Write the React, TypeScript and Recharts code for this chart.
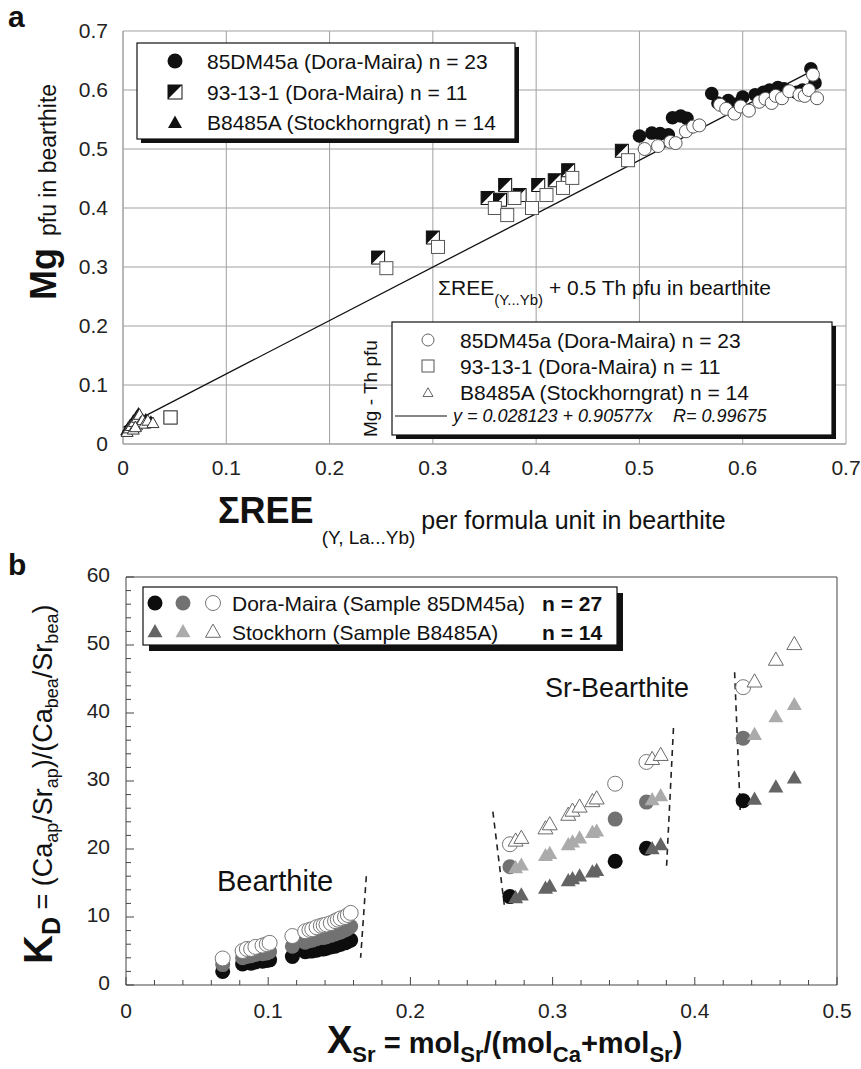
import React from "react";
import { CartesianGrid, ReferenceLine, Scatter, ScatterChart, XAxis, YAxis } from "recharts";

const FONT = '"Liberation Sans", Arial, Helvetica, sans-serif';
const INK = "#111";

// ---------- panel a: Mg vs sum REE (pfu) ----------
const aTicks = [0, 0.1, 0.2, 0.3, 0.4, 0.5, 0.6, 0.7];
const aTickLabels = ["0", "0.1", "0.2", "0.3", "0.4", "0.5", "0.6", "0.7"];

const dm45Ree = [0.5, 0.512, 0.52, 0.528, 0.532, 0.54, 0.546, 0.57, 0.576, 0.586, 0.594, 0.6, 0.612, 0.62, 0.626, 0.63, 0.634, 0.64, 0.652, 0.658, 0.662, 0.666, 0.67];
const dm45Mg = [0.522, 0.527, 0.526, 0.524, 0.553, 0.556, 0.552, 0.594, 0.578, 0.582, 0.576, 0.588, 0.592, 0.596, 0.6, 0.59, 0.604, 0.602, 0.596, 0.6, 0.598, 0.636, 0.612];
const dm45ThRee = [0.505, 0.518, 0.53, 0.535, 0.545, 0.552, 0.558, 0.578, 0.584, 0.592, 0.598, 0.606, 0.616, 0.622, 0.628, 0.632, 0.638, 0.645, 0.655, 0.66, 0.664, 0.668, 0.672];
const dm45ThMg = [0.5, 0.505, 0.512, 0.51, 0.53, 0.538, 0.54, 0.575, 0.568, 0.56, 0.572, 0.565, 0.58, 0.585, 0.578, 0.59, 0.586, 0.598, 0.592, 0.59, 0.6, 0.626, 0.586];

const s9313Ree = [0.247, 0.3, 0.353, 0.365, 0.37, 0.384, 0.402, 0.418, 0.431, 0.483, 0.046];
const s9313Mg = [0.316, 0.35, 0.417, 0.414, 0.439, 0.422, 0.439, 0.447, 0.464, 0.497, 0.045];
const s9313ThRee = [0.255, 0.305, 0.36, 0.372, 0.379, 0.396, 0.41, 0.426, 0.435, 0.489, 0.046];
const s9313ThMg = [0.298, 0.334, 0.4, 0.388, 0.417, 0.4, 0.422, 0.434, 0.451, 0.481, 0.045];

const b8485Ree = [0.003, 0.005, 0.007, 0.009, 0.01, 0.012, 0.013, 0.015, 0.016, 0.018, 0.02, 0.022, 0.027, 0.011];
const b8485Mg = [0.022, 0.028, 0.033, 0.026, 0.04, 0.034, 0.047, 0.052, 0.039, 0.043, 0.037, 0.042, 0.038, 0.031];
const b8485ThRee = [0.004, 0.006, 0.008, 0.01, 0.011, 0.013, 0.014, 0.016, 0.017, 0.019, 0.021, 0.024, 0.029, 0.012];
const b8485ThMg = [0.02, 0.026, 0.03, 0.024, 0.037, 0.031, 0.044, 0.049, 0.036, 0.04, 0.034, 0.039, 0.035, 0.028];

const fitIntercept = 0.028123;
const fitSlope = 0.90577;
const fitRange = [0, 0.67];

// ---------- panel b: KD vs X_Sr ----------
const bLabelsX = ["0", "0.1", "0.2", "0.3", "0.4", "0.5"];
const bLabelsY = ["0", "10", "20", "30", "40", "50", "60"];
const bTicksX = Array.from({ length: 26 }, (_, i) => i / 50);
const bTicksY = Array.from({ length: 31 }, (_, i) => i * 2);

const doraX = [0.068, 0.082, 0.085, 0.088, 0.091, 0.096, 0.099, 0.101, 0.117, 0.126, 0.129, 0.131, 0.134, 0.137, 0.139, 0.141, 0.144, 0.147, 0.149, 0.151, 0.154, 0.156, 0.158, 0.27, 0.344, 0.366, 0.434];
const doraKd1 = [2.0, 3.1, 3.3, 3.2, 3.4, 3.5, 3.6, 3.7, 4.2, 4.9, 5.0, 5.0, 5.1, 5.3, 5.3, 5.4, 5.6, 5.7, 5.9, 6.0, 6.2, 6.4, 6.6, 13.0, 18.2, 20.1, 27.1];
const doraKd2 = [3.0, 4.0, 4.2, 4.3, 4.5, 4.6, 4.7, 4.9, 5.7, 6.3, 6.5, 6.6, 6.8, 7.0, 7.0, 7.1, 7.3, 7.5, 7.7, 7.8, 8.1, 8.3, 8.6, 17.4, 24.4, 26.9, 36.3];
const doraKd3 = [3.9, 5.0, 5.3, 5.3, 5.6, 5.8, 6.0, 6.2, 7.2, 7.9, 8.1, 8.2, 8.5, 8.7, 8.8, 8.9, 9.1, 9.4, 9.6, 9.8, 10.0, 10.3, 10.6, 20.7, 29.6, 32.8, 43.8];

const stockX = [0.274, 0.278, 0.295, 0.298, 0.311, 0.314, 0.319, 0.328, 0.331, 0.37, 0.376, 0.442, 0.457, 0.47];
const stockKd1 = [12.8, 13.2, 14.2, 14.5, 15.3, 15.6, 16.0, 16.6, 16.8, 20.0, 20.6, 27.3, 29.1, 30.4];
const stockKd2 = [17.2, 17.6, 19.0, 19.3, 20.6, 21.0, 21.6, 22.4, 22.6, 27.2, 27.8, 36.8, 39.4, 41.2];
const stockKd3 = [21.2, 21.6, 23.0, 23.6, 25.0, 25.6, 26.2, 27.0, 27.4, 33.2, 33.8, 44.6, 47.8, 50.1];

// dashed field boundaries: [x top, KD top, x bottom, KD bottom]
const boundaries = [
  [0.169, 16.0, 0.165, 4.0],
  [0.258, 25.5, 0.266, 11.8],
  [0.385, 37.8, 0.38, 16.8],
  [0.428, 46.0, 0.432, 25.4],
];

const zip = (xs: number[], ys: number[]) => xs.map((x, i) => ({ x, y: ys[i] }));

// ---------- markers ----------
type P = { cx?: number; cy?: number };
const Dot = ({ cx = 0, cy = 0, r = 6.8, fill = INK, stroke = "none" }: P & { r?: number; fill?: string; stroke?: string }) => (
  <circle cx={cx} cy={cy} r={r} fill={fill} stroke={stroke} strokeWidth={1} />
);
const Tri = ({ cx = 0, cy = 0, w = 12, fill = INK, stroke = "none" }: P & { w?: number; fill?: string; stroke?: string }) => {
  const h = w * 0.88;
  return (
    <path
      d={`M${cx},${cy - h * 0.6} L${cx + w / 2},${cy + h * 0.4} L${cx - w / 2},${cy + h * 0.4} Z`}
      fill={fill}
      stroke={stroke}
      strokeWidth={1}
    />
  );
};
const HalfSq = ({ cx = 0, cy = 0, s = 6.5 }: P & { s?: number }) => (
  <g>
    <rect x={cx - s} y={cy - s} width={2 * s} height={2 * s} fill="#fff" stroke={INK} strokeWidth={1} />
    <path d={`M${cx - s},${cy - s} L${cx + s},${cy - s} L${cx - s},${cy + s} Z`} fill={INK} />
  </g>
);
const OpenSq = ({ cx = 0, cy = 0, s = 6.5 }: P & { s?: number }) => (
  <rect x={cx - s} y={cy - s} width={2 * s} height={2 * s} fill="#fff" stroke="#555" strokeWidth={1} />
);

const isMajor = (v: number, step: number) => Math.abs(v / step - Math.round(v / step)) < 1e-6;

const BottomTick = (p: any) => {
  const v = p.payload.value;
  const major = isMajor(v, 0.1);
  return (
    <g>
      <line x1={p.x} x2={p.x} y1={p.y} y2={p.y - (major ? 8 : 5)} stroke="#444" />
      {major ? (
        <text x={p.x} y={p.y + 33} textAnchor="middle" fontSize={21} fill="#222" fontFamily={FONT}>
          {bLabelsX[Math.round(v * 10)]}
        </text>
      ) : null}
    </g>
  );
};
const TopTick = (p: any) => {
  const major = isMajor(p.payload.value, 0.1);
  return <line x1={p.x} x2={p.x} y1={p.y} y2={p.y + (major ? 8 : 5)} stroke="#444" />;
};
const LeftTick = (p: any) => {
  const v = p.payload.value;
  const major = isMajor(v, 10);
  return (
    <g>
      <line x1={p.x} x2={p.x + (major ? 8 : 5)} y1={p.y} y2={p.y} stroke="#444" />
      {major ? (
        <text x={p.x - 16} y={p.y + 5} textAnchor="end" fontSize={21} fill="#222" fontFamily={FONT}>
          {bLabelsY[Math.round(v / 10)]}
        </text>
      ) : null}
    </g>
  );
};
const RightTick = (p: any) => {
  const major = isMajor(p.payload.value, 10);
  return <line x1={p.x} x2={p.x - (major ? 8 : 5)} y1={p.y} y2={p.y} stroke="#444" />;
};

function PanelA() {
  const tickStyle = { fontSize: 21, fill: "#222", fontFamily: FONT };
  const fmt = (v: number) => aTickLabels[Math.round(v * 10)];
  return (
    <ScatterChart width={861} height={490} margin={{ top: 31, right: 15, left: 0, bottom: 16 }}>
      <CartesianGrid stroke="#a0a0a0" strokeWidth={1} />
      <XAxis type="number" dataKey="x" domain={[0, 0.7]} ticks={aTicks} tickFormatter={fmt} height={30}
        tick={tickStyle} tickLine={false} tickSize={0} tickMargin={16} axisLine={{ stroke: "#a0a0a0" }} interval={0} />
      <YAxis type="number" dataKey="y" domain={[0, 0.7]} ticks={aTicks} tickFormatter={fmt} width={123}
        tick={tickStyle} tickLine={false} tickSize={0} tickMargin={15} axisLine={{ stroke: "#a0a0a0" }} interval={0} />
      <ReferenceLine
        segment={[
          { x: fitRange[0], y: fitIntercept + fitSlope * fitRange[0] },
          { x: fitRange[1], y: fitIntercept + fitSlope * fitRange[1] },
        ]}
        stroke={INK}
        strokeWidth={1.3}
      />
      <Scatter data={zip(dm45Ree, dm45Mg)} isAnimationActive={false} shape={(p: any) => <Dot cx={p.cx} cy={p.cy} />} />
      <Scatter data={zip(s9313Ree, s9313Mg)} isAnimationActive={false} shape={(p: any) => <HalfSq cx={p.cx} cy={p.cy} />} />
      <Scatter data={zip(b8485Ree, b8485Mg)} isAnimationActive={false} shape={(p: any) => <Tri cx={p.cx} cy={p.cy} w={12} />} />
      <Scatter data={zip(dm45ThRee, dm45ThMg)} isAnimationActive={false}
        shape={(p: any) => <Dot cx={p.cx} cy={p.cy} r={6.5} fill="#fff" stroke="#555" />} />
      <Scatter data={zip(s9313ThRee, s9313ThMg)} isAnimationActive={false} shape={(p: any) => <OpenSq cx={p.cx} cy={p.cy} />} />
      <Scatter data={zip(b8485ThRee, b8485ThMg)} isAnimationActive={false}
        shape={(p: any) => <Tri cx={p.cx} cy={p.cy} w={12} fill="#fff" stroke="#333" />} />
    </ScatterChart>
  );
}

function PanelB() {
  return (
    <ScatterChart width={861} height={529} margin={{ top: 36, right: 23, left: 0, bottom: 34 }}>
      <XAxis type="number" dataKey="x" domain={[0, 0.5]} ticks={bTicksX} interval={0} height={50}
        tick={BottomTick} tickLine={false} tickSize={0} tickMargin={0} axisLine={{ stroke: "#444" }} />
      <XAxis xAxisId="top" orientation="top" type="number" dataKey="x" domain={[0, 0.5]} ticks={bTicksX} interval={0} height={1}
        tick={TopTick} tickLine={false} tickSize={0} tickMargin={0} axisLine={{ stroke: "#444" }} />
      <YAxis type="number" dataKey="y" domain={[0, 60]} ticks={bTicksY} interval={0} width={126}
        tick={LeftTick} tickLine={false} tickSize={0} tickMargin={0} axisLine={{ stroke: "#444" }} />
      <YAxis yAxisId="right" orientation="right" type="number" dataKey="y" domain={[0, 60]} ticks={bTicksY} interval={0} width={1}
        tick={RightTick} tickLine={false} tickSize={0} tickMargin={0} axisLine={{ stroke: "#444" }} />
      {boundaries.map((b, i) => (
        <ReferenceLine key={i} segment={[{ x: b[0], y: b[1] }, { x: b[2], y: b[3] }]} stroke="#222" strokeWidth={1.6} strokeDasharray="6 5" />
      ))}
      <Scatter data={zip(doraX, doraKd1)} isAnimationActive={false} shape={(p: any) => <Dot cx={p.cx} cy={p.cy} r={7.5} fill="#0d0d0d" />} />
      <Scatter data={zip(doraX, doraKd2)} isAnimationActive={false} shape={(p: any) => <Dot cx={p.cx} cy={p.cy} r={7.5} fill="#727272" />} />
      <Scatter data={zip(doraX, doraKd3)} isAnimationActive={false}
        shape={(p: any) => <Dot cx={p.cx} cy={p.cy} r={7.5} fill="#fff" stroke="#777" />} />
      <Scatter data={zip(stockX, stockKd1)} isAnimationActive={false} shape={(p: any) => <Tri cx={p.cx} cy={p.cy} w={15} fill="#646464" />} />
      <Scatter data={zip(stockX, stockKd2)} isAnimationActive={false} shape={(p: any) => <Tri cx={p.cx} cy={p.cy} w={15} fill="#ababab" />} />
      <Scatter data={zip(stockX, stockKd3)} isAnimationActive={false}
        shape={(p: any) => <Tri cx={p.cx} cy={p.cy} w={15} fill="#fff" stroke="#6a6a6a" />} />
    </ScatterChart>
  );
}

function Annotations() {
  const t = { fontFamily: FONT, fill: INK };
  return (
    <svg width={861} height={1069} style={{ position: "absolute", left: 0, top: 0, pointerEvents: "none" }}>
      <g style={{ whiteSpace: "pre" }}>
        <text x={8} y={27} fontSize={30} fontWeight="bold" {...t}>a</text>
        <text x={8} y={575} fontSize={30} fontWeight="bold" {...t}>b</text>

        {/* panel a legend 1 */}
        <rect x={141} y={47} width={378} height={96} fill={INK} />
        <rect x={137} y={43} width={378} height={96} fill="#fff" stroke={INK} strokeWidth={1.2} />
        <Dot cx={175} cy={61} r={7.5} />
        <text x={207} y={68.5} fontSize={21} {...t}>85DM45a (Dora-Maira) n = 23</text>
        <HalfSq cx={175} cy={92} s={7} />
        <text x={207} y={99.5} fontSize={21} {...t}>93-13-1 (Dora-Maira) n = 11</text>
        <Tri cx={175} cy={123} w={14} />
        <text x={207} y={129.5} fontSize={21} {...t}>B8485A (Stockhorngrat) n = 14</text>

        {/* panel a note */}
        <text x={438} y={295} {...t}>
          <tspan fontSize={21}>ΣREE</tspan>
          <tspan fontSize={15} dy={10}>(Y...Yb)</tspan>
          <tspan fontSize={21} dy={-10}> + 0.5 Th pfu in bearthite</tspan>
        </text>
        <text transform="translate(377,437) rotate(-90)" fontSize={19} {...t}>Mg - Th pfu</text>

        {/* panel a legend 2 */}
        <rect x={396} y={326} width={440} height={113} fill={INK} />
        <rect x={392} y={322} width={440} height={113} fill="#fff" stroke={INK} strokeWidth={1.2} />
        <Dot cx={428} cy={340} r={6} fill="#fff" stroke="#666" />
        <text x={460} y={347.5} fontSize={21} {...t}>85DM45a (Dora-Maira) n = 23</text>
        <OpenSq cx={428} cy={366} s={6} />
        <text x={460} y={373.5} fontSize={21} {...t}>93-13-1 (Dora-Maira) n = 11</text>
        <Tri cx={428} cy={393} w={10} fill="#fff" stroke="#666" />
        <text x={460} y={399.5} fontSize={21} {...t}>B8485A (Stockhorngrat) n = 14</text>
        <line x1={395} x2={447} y1={416} y2={416} stroke={INK} strokeWidth={1.2} />
        <text x={453} y={422} fontSize={18} fontStyle="italic" {...t}>y = 0.028123 + 0.90577x</text>
        <text x={673} y={422} fontSize={18} fontStyle="italic" {...t}>R= 0.99675</text>

        {/* panel a axis titles */}
        <text transform="translate(56,300) rotate(-90)" {...t}>
          <tspan fontSize={36} fontWeight="bold">Mg</tspan>
          <tspan fontSize={23} dx={12}>pfu in bearthite</tspan>
        </text>
        <text x={218} y={523} {...t}>
          <tspan fontSize={36} fontWeight="bold">ΣREE</tspan>
          <tspan fontSize={19} dx={8} dy={21}>(Y, La...Yb)</tspan>
          <tspan fontSize={25} dx={6} dy={-15}>per formula unit in bearthite</tspan>
        </text>

        {/* panel b legend */}
        <rect x={149} y={593} width={474} height={58} fill={INK} />
        <rect x={143} y={587} width={474} height={58} fill="#fff" stroke={INK} strokeWidth={1.2} />
        <Dot cx={155} cy={603} r={7.5} fill="#0d0d0d" />
        <Dot cx={183} cy={603} r={7.5} fill="#727272" />
        <Dot cx={213} cy={603} r={7.5} fill="#fff" stroke="#777" />
        <text x={232} y={610.5} fontSize={21} {...t}>Dora-Maira (Sample 85DM45a)</text>
        <text x={542} y={610.5} fontSize={21} fontWeight="bold" {...t}>n = 27</text>
        <Tri cx={155} cy={632} w={15} fill="#646464" />
        <Tri cx={183} cy={632} w={15} fill="#ababab" />
        <Tri cx={213} cy={632} w={15} fill="#fff" stroke="#6a6a6a" />
        <text x={232} y={639.5} fontSize={21} {...t}>Stockhorn (Sample B8485A)</text>
        <text x={542} y={639.5} fontSize={21} fontWeight="bold" {...t}>n = 14</text>

        <text x={217} y={891} fontSize={29} {...t}>Bearthite</text>
        <text x={545} y={697} fontSize={27} {...t}>Sr-Bearthite</text>

        {/* panel b axis titles */}
        <text transform="translate(52,964) rotate(-90)" {...t}>
          <tspan fontSize={40} fontWeight="bold">K</tspan>
          <tspan fontSize={25} fontWeight="bold" dy={8}>D</tspan>
          <tspan fontSize={27} dy={-8}> = (Ca</tspan>
          <tspan fontSize={18} dy={6}>ap</tspan>
          <tspan fontSize={27} dy={-6}>/Sr</tspan>
          <tspan fontSize={18} dy={6}>ap</tspan>
          <tspan fontSize={27} dy={-6}>)/(Ca</tspan>
          <tspan fontSize={18} dy={6}>bea</tspan>
          <tspan fontSize={27} dy={-6}>/Sr</tspan>
          <tspan fontSize={18} dy={6}>bea</tspan>
          <tspan fontSize={27} dy={-6}>)</tspan>
        </text>
        <text x={327} y={1053} fontWeight="bold" {...t}>
          <tspan fontSize={38}>X</tspan>
          <tspan fontSize={22} dy={9}>Sr</tspan>
          <tspan fontSize={29} dy={-9}> = mol</tspan>
          <tspan fontSize={22} dy={9}>Sr</tspan>
          <tspan fontSize={29} dy={-9}>/(mol</tspan>
          <tspan fontSize={22} dy={9}>Ca</tspan>
          <tspan fontSize={29} dy={-9}>+mol</tspan>
          <tspan fontSize={22} dy={9}>Sr</tspan>
          <tspan fontSize={29} dy={-9}>)</tspan>
        </text>
      </g>
    </svg>
  );
}

export default function App() {
  return (
    <div style={{ position: "absolute", left: 0, top: 0, width: 861, height: 1069, background: "#fff", fontFamily: FONT, overflow: "hidden" }}>
      <div style={{ position: "absolute", left: 0, top: 0 }}>
        <PanelA />
      </div>
      <div style={{ position: "absolute", left: 0, top: 540 }}>
        <PanelB />
      </div>
      <Annotations />
    </div>
  );
}
